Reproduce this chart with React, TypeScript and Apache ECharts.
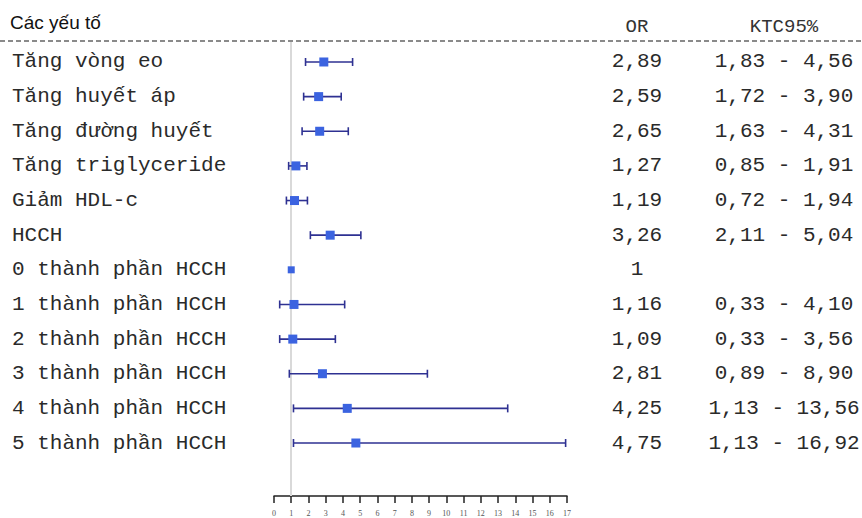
import React, { useEffect, useRef } from "react";
import * as echarts from "echarts";

const factors = [
  "Tăng vòng eo",
  "Tăng huyết áp",
  "Tăng đường huyết",
  "Tăng triglyceride",
  "Giảm HDL-c",
  "HCCH",
  "0 thành phần HCCH",
  "1 thành phần HCCH",
  "2 thành phần HCCH",
  "3 thành phần HCCH",
  "4 thành phần HCCH",
  "5 thành phần HCCH",
];
const orValues = [2.89, 2.59, 2.65, 1.27, 1.19, 3.26, 1, 1.16, 1.09, 2.81, 4.25, 4.75];
const ciLow: (number | null)[] = [1.83, 1.72, 1.63, 0.85, 0.72, 2.11, null, 0.33, 0.33, 0.89, 1.13, 1.13];
const ciHigh: (number | null)[] = [4.56, 3.9, 4.31, 1.91, 1.94, 5.04, null, 4.1, 3.56, 8.9, 13.56, 16.92];
const xTicks = [0, 17];

const fmt = (v: number) => v.toFixed(2).replace(".", ",");
const orText = orValues.map((v, i) => (ciLow[i] == null ? String(v) : fmt(v)));
const ciText = ciLow.map((lo, i) => (lo == null || ciHigh[i] == null ? "" : `${fmt(lo)} - ${fmt(ciHigh[i] as number)}`));

const MONO = "'Courier New', 'Liberation Mono', monospace";
const BAR = "#2e3192";
const SQ = "#3b63e0";

export default function App() {
  const ref = useRef<HTMLDivElement>(null);
  useEffect(() => {
    if (!ref.current) return;
    const chart = echarts.init(ref.current, undefined, { renderer: "svg" });
    const rows = orValues.map((v, i) => [v, i]);
    chart.setOption({
      animation: false,
      backgroundColor: "#ffffff",
      grid: { left: 274, right: 295, top: 41.2, bottom: 22 },
      xAxis: {
        type: "value",
        position: "bottom",
        min: xTicks[0],
        max: xTicks[1],
        interval: 1,
        splitLine: { show: false },
        axisLine: { show: true, onZero: false, lineStyle: { color: "#222", width: 1.5 } },
        axisTick: { show: true, length: 7, lineStyle: { color: "#222", width: 1.5 } },
        axisLabel: { fontSize: 8, color: "#555", fontFamily: "'Liberation Serif', serif", margin: 13 },
      },
      yAxis: { type: "value", min: -0.6, max: 12.53, inverse: true, show: false },
      graphic: [
        {
          type: "line",
          shape: { x1: 0, y1: 41, x2: 862, y2: 41 },
          style: { stroke: "#8a8a8a", lineWidth: 2, lineDash: [5, 3] },
          z: 10,
        },
        {
          type: "text",
          x: 10,
          y: 22,
          style: { text: "Các yếu tố", font: "19px 'Liberation Sans', Arial, sans-serif", fill: "#111", verticalAlign: "middle" },
        },
        {
          type: "text",
          x: 637,
          y: 27,
          style: { text: "OR", font: `19px ${MONO}`, fill: "#333", align: "center", verticalAlign: "middle" },
        },
        {
          type: "text",
          x: 784,
          y: 27,
          style: { text: "KTC95%", font: `19px ${MONO}`, fill: "#333", align: "center", verticalAlign: "middle" },
        },
      ],
      series: [
        {
          type: "custom",
          clip: false,
          silent: true,
          data: rows,
          renderItem: (params: any, api: any) => {
            const i = params.dataIndex;
            const lo = ciLow[i];
            const hi = ciHigh[i];
            if (lo == null || hi == null) return { type: "group", children: [] };
            const a = api.coord([lo, i]);
            const b = api.coord([hi, i]);
            const st = { stroke: BAR, lineWidth: 1.6 };
            return {
              type: "group",
              children: [
                { type: "line", shape: { x1: a[0], y1: a[1], x2: b[0], y2: b[1] }, style: st },
                { type: "line", shape: { x1: a[0], y1: a[1] - 4, x2: a[0], y2: a[1] + 4 }, style: st },
                { type: "line", shape: { x1: b[0], y1: b[1] - 4, x2: b[0], y2: b[1] + 4 }, style: st },
              ],
            };
          },
          z: 3,
        },
        {
          type: "scatter",
          data: rows,
          symbol: "rect",
          symbolSize: (v: any, p: any) => (ciLow[p.dataIndex] == null ? 7 : 9),
          itemStyle: { color: SQ, opacity: 1 },
          silent: true,
          z: 4,
          markLine: {
            silent: true,
            symbol: "none",
            label: { show: false },
            lineStyle: { color: "#d9d9d9", width: 2, type: "solid" },
            data: [{ xAxis: 1 }],
            z: 1,
          },
        },
        {
          type: "custom",
          clip: false,
          silent: true,
          data: rows,
          renderItem: (params: any, api: any) => {
            const i = params.dataIndex;
            const y = api.coord([0, i])[1];
            const font = `21px ${MONO}`;
            return {
              type: "group",
              children: [
                { type: "text", x: 12, y, style: { text: factors[i], font, fill: "#2a2a2a", verticalAlign: "middle" } },
                { type: "text", x: 637, y, style: { text: orText[i], font, fill: "#2a2a2a", align: "center", verticalAlign: "middle" } },
                { type: "text", x: 784, y, style: { text: ciText[i], font, fill: "#2a2a2a", align: "center", verticalAlign: "middle" } },
              ],
            };
          },
          z: 5,
        },
      ],
    });
    return () => chart.dispose();
  }, []);
  return <div ref={ref} style={{ position: "fixed", left: 0, top: 0, width: 862, height: 518 }} />;
}
